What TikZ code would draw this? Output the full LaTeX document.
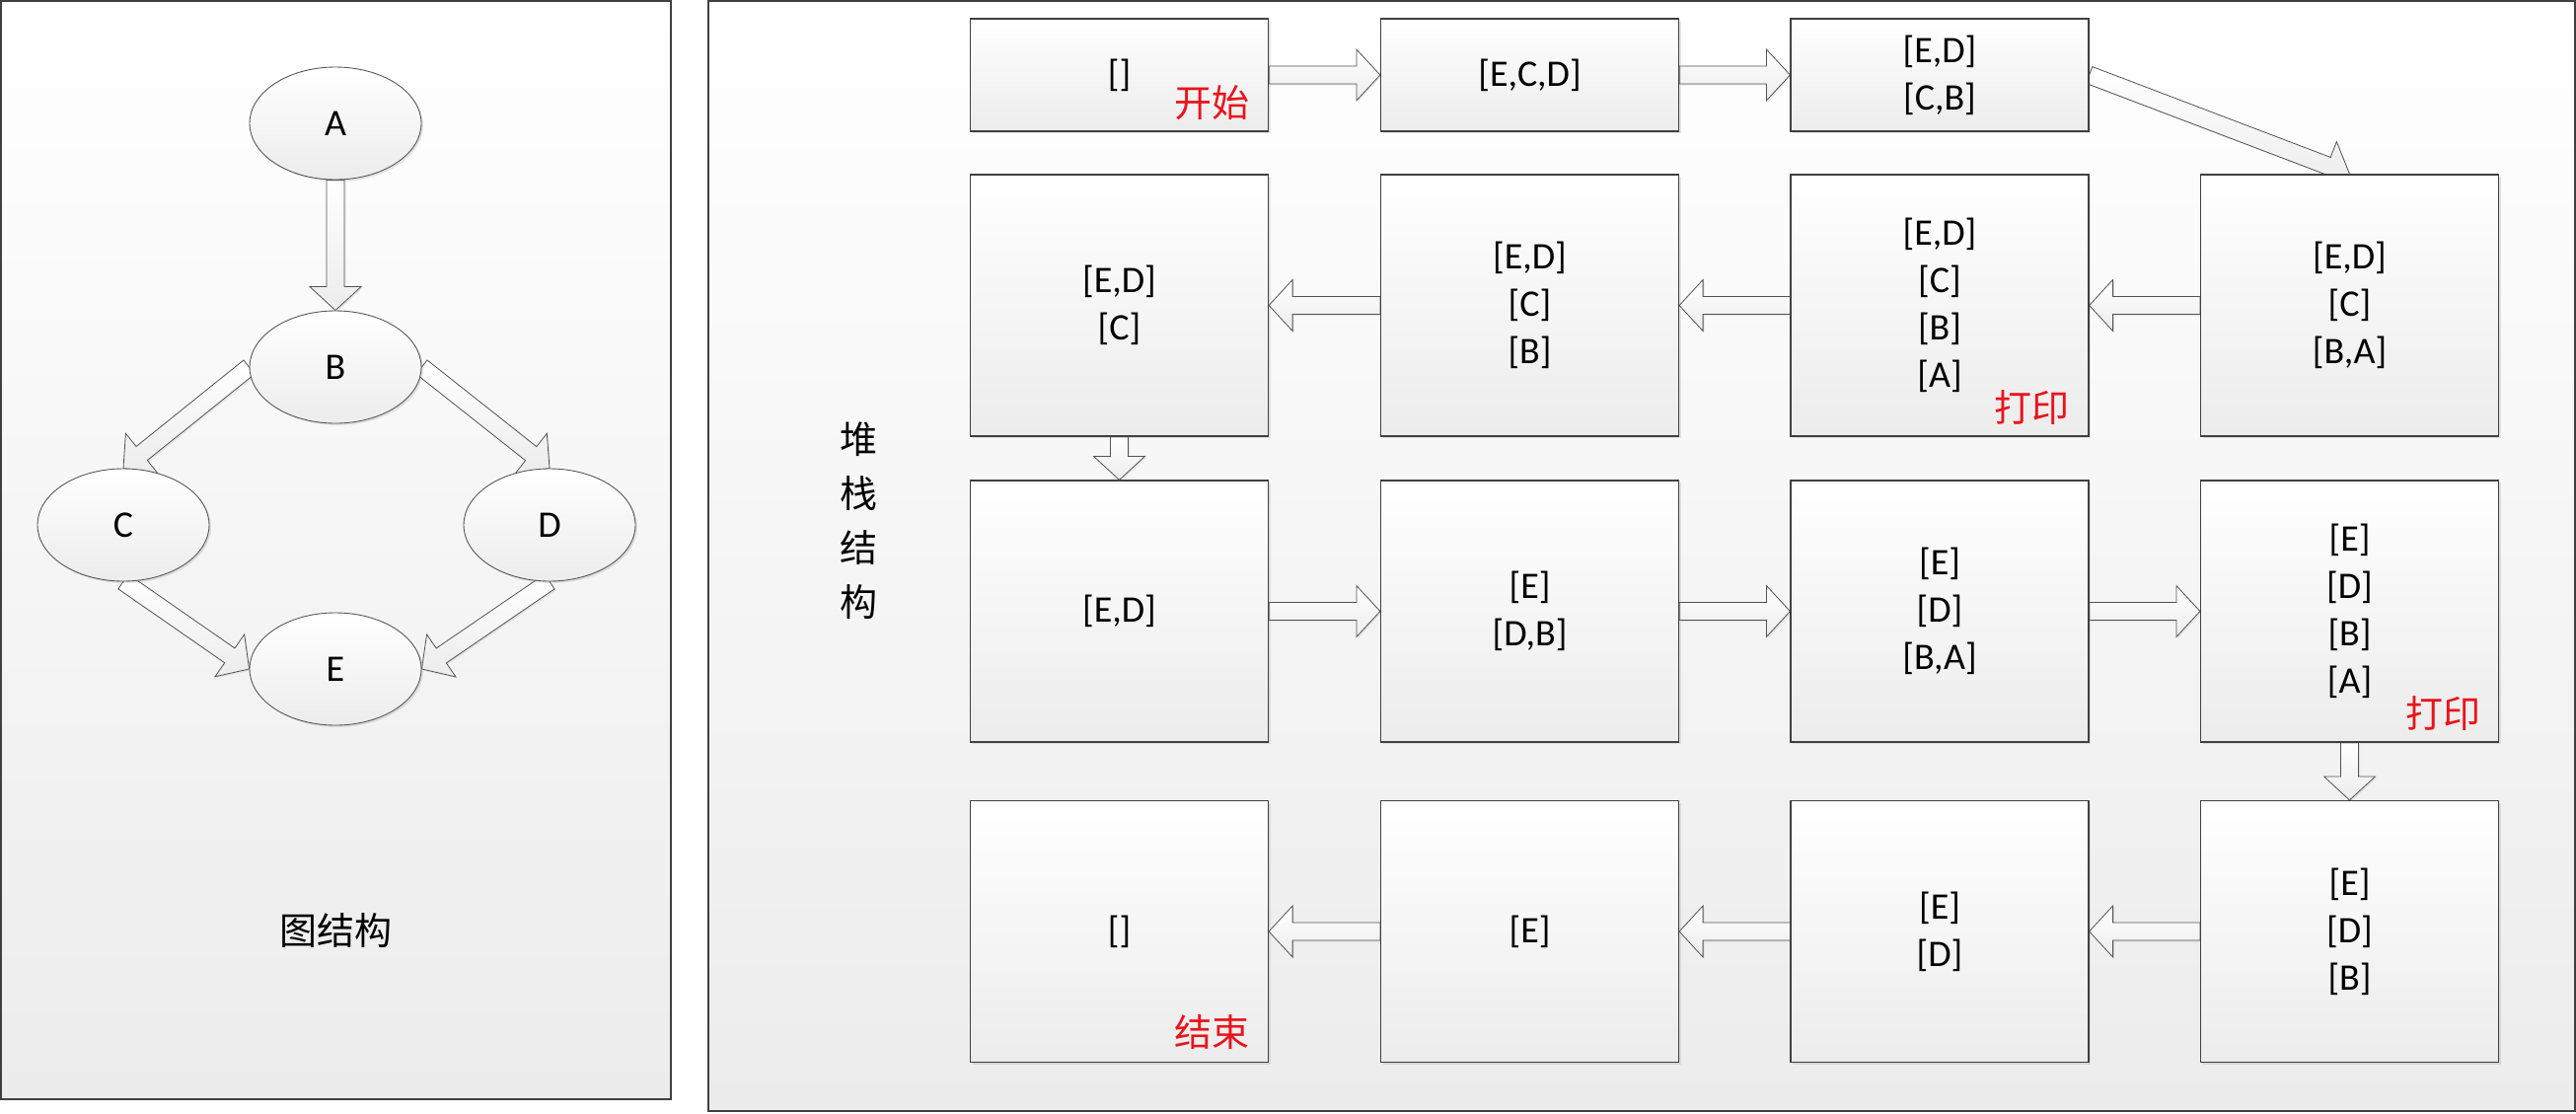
\documentclass[tikz,border=0pt]{standalone}
\usepackage{fontspec}
\setmainfont{Carlito}
\newfontfamily\cjk{Noto Sans CJK SC}
\usepackage{tikz}
\usetikzlibrary{shapes.geometric,calc,shadows,backgrounds}
\definecolor{EdgeGray}{HTML}{404040}
\definecolor{FadeGray}{HTML}{ECECEC}
\definecolor{MarkRed}{HTML}{E8141B}

% hollow block arrow from #1 to #2
\newcommand{\blockarrow}[2]{%
  \draw[blkarr] let \p1=($(#2)-(#1)$), \n1={veclen(\x1,\y1)}, \n2={atan2(\y1,\x1)} in
    [shift={(#1)}, rotate=\n2]
    (0,-9) -- ({\n1-24},-9) -- ({\n1-24},-26) -- (\n1,0)
    -- ({\n1-24},26) -- ({\n1-24},9) -- (0,9) -- cycle;}

\begin{document}
\begin{tikzpicture}[
  x=1pt, y=-1pt,
  panel/.style={rectangle, draw=EdgeGray, line width=1.3pt, top color=white, bottom color=FadeGray},
  vert/.style={ellipse, draw=gray!70!black, line width=0.9pt, top color=white, bottom color=FadeGray, minimum width=174pt, minimum height=114pt, inner sep=0pt, font=\fontsize{38}{46}\selectfont, drop shadow={opacity=0.2, shadow xshift=2pt, shadow yshift=-2pt}},
  stackbox/.style={rectangle, draw=EdgeGray, line width=1.2pt, top color=white, bottom color=FadeGray, minimum width=302pt, minimum height=#1, inner sep=0pt, align=center, font=\fontsize{38}{48}\selectfont, drop shadow={opacity=0.2, shadow xshift=2pt, shadow yshift=-2pt}},
  stackbox/.default=265pt,
  redmark/.style={text=MarkRed, inner sep=0pt, font=\cjk\fontsize{38}{48}\selectfont},
  caption/.style={inner sep=0pt, align=center, font=\cjk\fontsize{38}{55}\selectfont},
  blkarr/.style={draw=gray!65!black, line width=0.8pt, top color=white, bottom color=FadeGray, drop shadow={opacity=0.15, shadow xshift=1.5pt, shadow yshift=-1.5pt}}
]
\useasboundingbox (0,0) rectangle (2611,1128);

% Panels
\begin{pgfonlayer}{background}
\draw[panel] (1,1) rectangle (680,1114);
\draw[panel] (718,1) rectangle (2610,1126);
\end{pgfonlayer}

% Graph
\node[vert] (A) at (340,125) {A};
\node[vert] (B) at (340,372) {B};
\node[vert] (C) at (125,532) {C};
\node[vert] (D) at (557,532) {D};
\node[vert] (E) at (340,678) {E};
\node[caption] (graphcap) at (340,943) {图结构};

% Stack
\node[caption] (stackcap) at (870,528) {堆\\栈\\结\\构};

% Row 1
\node[stackbox=114pt] (s11) at (1134.5,76) {[]};
\node[stackbox=114pt] (s12) at (1550.5,76) {[E,C,D]};
\node[stackbox=114pt] (s13) at (1966,76) {[E,D]\\{[C,B]}};

% Row 2
\node[stackbox] (s21) at (1134.5,309.5) {[E,D]\\{[C]}};
\node[stackbox] (s22) at (1550.5,309.5) {[E,D]\\{[C]}\\{[B]}};
\node[stackbox] (s23) at (1966,309.5) {[E,D]\\{[C]}\\{[B]}\\{[A]}};
\node[stackbox] (s24) at (2381.5,309.5) {[E,D]\\{[C]}\\{[B,A]}};

% Row 3
\node[stackbox] (s31) at (1134.5,619.5) {[E,D]};
\node[stackbox] (s32) at (1550.5,619.5) {[E]\\{[D,B]}};
\node[stackbox] (s33) at (1966,619.5) {[E]\\{[D]}\\{[B,A]}};
\node[stackbox] (s34) at (2381.5,619.5) {[E]\\{[D]}\\{[B]}\\{[A]}};

% Row 4
\node[stackbox] (s41) at (1134.5,944) {[]};
\node[stackbox] (s42) at (1550.5,944) {[E]};
\node[stackbox] (s43) at (1966,944) {[E]\\{[D]}};
\node[stackbox] (s44) at (2381.5,944) {[E]\\{[D]}\\{[B]}};

% Red marks
\node[redmark] (start) at (1228,104) {开始};
\node[redmark] (print1) at (2059,413) {打印};
\node[redmark] (print2) at (2476,723) {打印};
\node[redmark] (finish) at (1228,1046) {结束};

% Arrows
\begin{pgfonlayer}{background}
\blockarrow{A.south}{B.north}
\blockarrow{B.west}{C.north}
\blockarrow{B.east}{D.north}
\blockarrow{C.south}{E.west}
\blockarrow{D.south}{E.east}

\blockarrow{s11.east}{s12.west}
\blockarrow{s12.east}{s13.west}
\blockarrow{s13.east}{s24.north}
\blockarrow{s24.west}{s23.east}
\blockarrow{s23.west}{s22.east}
\blockarrow{s22.west}{s21.east}
\blockarrow{s21.south}{s31.north}
\blockarrow{s31.east}{s32.west}
\blockarrow{s32.east}{s33.west}
\blockarrow{s33.east}{s34.west}
\blockarrow{s34.south}{s44.north}
\blockarrow{s44.west}{s43.east}
\blockarrow{s43.west}{s42.east}
\blockarrow{s42.west}{s41.east}
\end{pgfonlayer}

\end{tikzpicture}
\end{document}
